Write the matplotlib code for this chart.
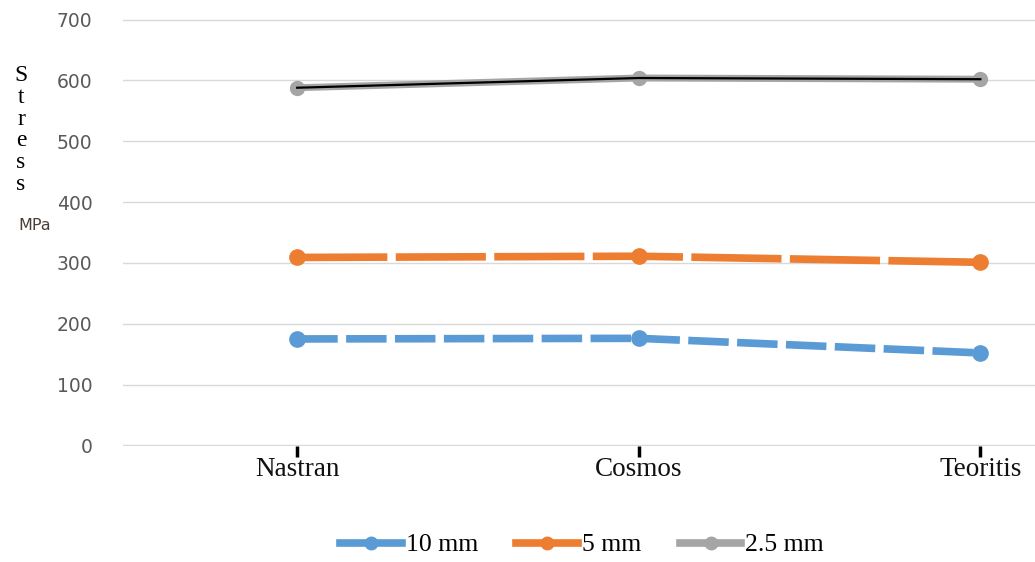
import matplotlib.pyplot as plt
from matplotlib.lines import Line2D

methods = ["Nastran", "Cosmos", "Teoritis"]
stress_10mm = [175, 176, 152]
stress_5mm = [309, 311, 301]
stress_25mm = [588, 604, 602]

blue = "#5b9bd5"
orange = "#ed7d31"
gray = "#a5a5a5"

fig = plt.figure(figsize=(10.35, 5.62), dpi=100)
ax = fig.add_axes([123 / 1035, 1 - 446 / 562, 1 - 123 / 1035, (446 - 19) / 562])

x = list(range(len(methods)))

ax.plot(x, stress_10mm, color=blue, lw=5.5, dashes=(5.3, 1.1), marker="o", ms=11,
        dash_capstyle="butt", zorder=3)
ax.plot(x, stress_5mm, color=orange, lw=5.5, dashes=(11.8, 1.1), marker="o", ms=11,
        dash_capstyle="butt", zorder=3)
ax.plot(x, stress_25mm, color=gray, lw=5, marker="o", ms=10, zorder=3)
ax.plot(x, stress_25mm, color="black", lw=1.6, zorder=4)

ax.set_xlim(-0.51, 2.16)
ax.set_ylim(-1, 701)
ax.set_yticks(range(0, 701, 100))
ax.grid(axis="y", color="#d9d9d9", lw=1)
ax.set_axisbelow(True)
for s in ax.spines.values():
    s.set_visible(False)

ax.set_xticks(x)
ax.set_xticklabels(methods, fontfamily="Liberation Serif", fontsize=19.5, color="#111111")
ax.tick_params(axis="x", length=8, width=2.5, color="black", pad=0)
ax.tick_params(axis="y", length=0, pad=22, labelsize=13.5, labelcolor="#595959")

# vertical stacked axis label
fig.text(21 / 1035, 1 - 130 / 562, "S\nt\nr\ne\ns\ns", fontfamily="Liberation Serif",
         fontsize=17, ha="center", va="center", linespacing=1.05)
fig.text(35 / 1035, 1 - 225 / 562, "MPa", fontsize=11.5, ha="center", va="center",
         color="#4a4038")

handles = [
    Line2D([], [], color=blue, lw=5.5, marker="o", ms=9),
    Line2D([], [], color=orange, lw=5.5, marker="o", ms=9),
    Line2D([], [], color=gray, lw=5.5, marker="o", ms=9),
]
fig.legend(handles, ["10 mm", "5 mm", "2.5 mm"], loc="center", ncol=3,
           bbox_to_anchor=(582 / 1035, 1 - 545 / 562), frameon=False,
           prop={"family": "Liberation Serif", "size": 18.5}, handlelength=2.4,
           handletextpad=0.15, columnspacing=1.5)

fig.savefig("out.png", dpi=100)
